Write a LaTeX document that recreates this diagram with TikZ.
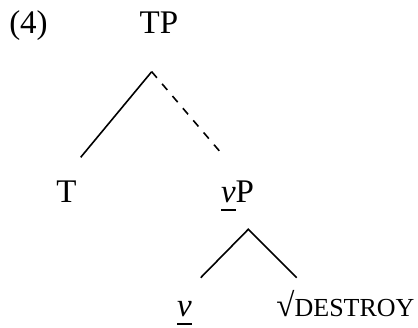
\documentclass[tikz,border=0pt]{standalone}
\usepackage{fontspec}
\setmainfont{Liberation Serif}
\usetikzlibrary{positioning}

\newcommand{\lbl}{\fontsize{33}{38}\selectfont}
\newcommand{\smcaps}[1]{{\fontsize{26}{30}\selectfont #1}}
\newlength{\vwd}
\newcommand{\uv}{\settowidth{\vwd}{\textit{v}}\rlap{\textit{v}}\rule[-8pt]{\vwd}{2pt}}

\begin{document}
\begin{tikzpicture}[x=1pt, y=-1pt,
    every node/.style={inner sep=0pt, anchor=base, font=\lbl},
    branch/.style={line width=1.6pt},
    dashbranch/.style={branch, dash pattern=on 8pt off 8pt}]
    \useasboundingbox (0,0) rectangle (418,328);
    % example number and root
    \node (ex) at (28.5,34) {(4)};
    \node (tp) at (159,34) {TP};
    \coordinate (tpapex) at (151.7,71.7);
    \coordinate (tpl) at (80.7,157.3);
    \coordinate (tpr) at (220,151.7);
    \draw[branch] (tpapex) -- (tpl);
    \draw[dashbranch] (tpapex) -- (tpr);
    \node (t) at (66.5,203) {T};
    \node (vp) at (237.5,203) {\uv P};

    % vP: v and root
    \coordinate (vpapex) at (248.3,229.3);
    \coordinate (vpl) at (200.7,277.7);
    \coordinate (vpr) at (296.7,277.7);
    \draw[branch] (vpl) -- (vpapex) -- (vpr);
    \node (v) at (184.5,317) {\uv};
    \node (root) at (345.5,317) {√\smcaps{DESTROY}};
\end{tikzpicture}
\end{document}
